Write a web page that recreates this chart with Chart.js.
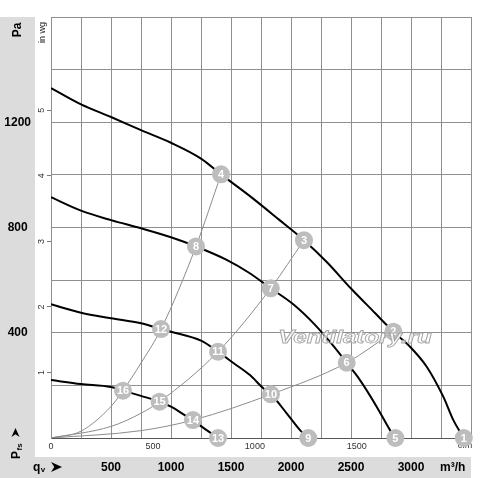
<!doctype html>
<html>
<head>
<meta charset="utf-8">
<title>Fan performance curves</title>
<script src="https://cdn.jsdelivr.net/npm/chart.js@4.4.1/dist/chart.umd.min.js"></script>
<style>
  html, body { margin: 0; padding: 0; background: #fff; }
</style>
</head>
<body>
<canvas id="fan" width="500" height="478"></canvas>
<script>
// axes
const flowTicks = [0, 250, 500, 750, 1000, 1250, 1500, 1750, 2000, 2250, 2500, 2750, 3000, 3250, 3500];
const flowLabels = [500, 1000, 1500, 2000, 2500, 3000];
const cfmTicks = [0, 500, 1000, 1500];
const paTicks = [0, 200, 400, 600, 800, 1000, 1200, 1400, 1600];
const paLabels = [400, 800, 1200];
const inwgTicks = [1, 2, 3, 4, 5];

// fan curves [m³/h, Pa], top speed first
const curve1 = [[0, 1330], [250, 1268], [500, 1220], [750, 1170], [1000, 1122], [1250, 1062], [1417, 1002],
  [1650, 922], [1900, 830], [2108, 752], [2300, 668], [2500, 568], [2700, 475], [2853, 404],
  [2992, 347], [3131, 271], [3269, 157], [3353, 68], [3440, 0]];
const curve2 = [[0, 915], [250, 864], [500, 828], [750, 797], [1000, 763], [1208, 728], [1460, 678],
  [1650, 628], [1831, 569], [2019, 508], [2200, 430], [2353, 350], [2464, 286], [2575, 220],
  [2714, 119], [2825, 30], [2870, 0]];
const curve3 = [[0, 508], [250, 476], [500, 455], [750, 436], [917, 414], [1000, 404], [1250, 370],
  [1392, 328], [1520, 285], [1658, 239], [1769, 189], [1833, 166], [1964, 94], [2075, 30], [2144, 0]];
const curve4 = [[0, 220], [250, 205], [500, 194], [600, 180], [750, 160], [905, 138], [1000, 119],
  [1131, 82], [1183, 68], [1256, 43], [1392, 0]];

// system curves
const system1 = [[0, 0], [250, 26], [500, 120], [600, 180], [750, 285], [917, 414], [1208, 728], [1417, 1002]];
const system2 = [[0, 0], [500, 44], [750, 94], [905, 138], [1392, 328], [1831, 569], [2108, 752]];
const system3 = [[0, 0], [750, 28], [1183, 68], [1833, 166], [2464, 286], [2853, 404]];

// operating points
const markerLabels = ['1', '2', '3', '4', '5', '6', '7', '8', '9', '10', '11', '12', '13', '14', '15', '16'];
const markerPoints = [[3440, 0], [2853, 404], [2108, 752], [1417, 1002], [2870, 0], [2464, 286], [1831, 569],
  [1208, 728], [2144, 0], [1833, 166], [1392, 328], [917, 414], [1392, 0], [1183, 68], [905, 138], [600, 180]];

const PA_PER_INWG = 249.09;
const M3H_PER_CFM = 1.699;
const FONT = "'Liberation Sans', Arial, sans-serif";

Chart.defaults.font.family = FONT;

const pts = arr => arr.map(([x, y]) => ({x, y}));

function fanLine(data) {
  return {data: pts(data), borderColor: '#000', borderWidth: 2, pointRadius: 0,
    cubicInterpolationMode: 'monotone', order: 1};
}
function sysLine(data) {
  return {data: pts(data), borderColor: '#8c8c8c', borderWidth: 1, pointRadius: 0,
    cubicInterpolationMode: 'monotone', order: 2};
}

function arrow(ctx, x, y, len) {
  // ➤ style arrow head pointing along +x
  ctx.beginPath();
  ctx.moveTo(x + len, y);
  ctx.lineTo(x, y - len * 0.45);
  ctx.lineTo(x + len * 0.3, y);
  ctx.lineTo(x, y + len * 0.45);
  ctx.closePath();
  ctx.fill();
}

const decor = {
  id: 'decor',
  beforeDraw(chart) {
    const {ctx, chartArea: a, scales: s} = chart;
    ctx.save();
    ctx.fillStyle = '#fff';
    ctx.fillRect(0, 0, chart.width, chart.height);
    ctx.fillStyle = '#dcdcdc';
    ctx.fillRect(0, a.top, s.y.right, chart.height - a.top);
    ctx.fillRect(0, s.x.top, a.right, s.x.bottom - s.x.top);
    ctx.restore();
  },
  beforeDatasetsDraw(chart) {
    const {ctx, chartArea: a} = chart;
    ctx.save();
    ctx.fillStyle = '#333';
    ctx.font = '9px ' + FONT;
    ctx.textAlign = 'center';
    ctx.textBaseline = 'top';
    ctx.fillText('cfm', a.right - 6, a.bottom + 3);
    ctx.restore();
  },
  afterDatasetsDraw(chart) {
    const {ctx} = chart;
    const meta = chart.getDatasetMeta(0);
    ctx.save();
    ctx.fillStyle = '#fff';
    ctx.font = 'bold 11px ' + FONT;
    ctx.textAlign = 'center';
    ctx.textBaseline = 'middle';
    meta.data.forEach((el, i) => ctx.fillText(markerLabels[i], el.x, el.y + 0.5));

    // watermark
    ctx.translate(355, 343);
    ctx.scale(1.34, 1);
    ctx.font = 'italic bold 18px ' + FONT;
    ctx.textBaseline = 'alphabetic';
    ctx.fillStyle = 'rgba(255,255,255,0.75)';
    ctx.fillText('Ventilatory.ru', 0, 0);
    ctx.strokeStyle = 'rgba(160,160,160,0.95)';
    ctx.lineWidth = 0.8;
    ctx.strokeText('Ventilatory.ru', 0, 0);
    ctx.restore();
  },
  afterDraw(chart) {
    const {ctx, chartArea: a, scales: s} = chart;
    ctx.save();
    ctx.fillStyle = '#000';
    ctx.textAlign = 'center';
    ctx.textBaseline = 'middle';

    // Pa
    ctx.save();
    ctx.translate(s.y.left + 17.5, a.top + 13);
    ctx.rotate(-Math.PI / 2);
    ctx.font = 'bold 12px ' + FONT;
    ctx.fillText('Pa', 0, 0);
    ctx.restore();

    // in wg
    ctx.save();
    ctx.translate(s.inwg.left + 8, a.top + 15.5);
    ctx.rotate(-Math.PI / 2);
    ctx.font = '9px ' + FONT;
    ctx.fillStyle = '#222';
    ctx.fillText('in wg', 0, 0);
    ctx.restore();

    // Pfs ➤
    ctx.save();
    ctx.translate(s.y.left + 19.5, chart.height - 19);
    ctx.rotate(-Math.PI / 2);
    ctx.textAlign = 'left';
    ctx.textBaseline = 'alphabetic';
    ctx.font = 'bold 12px ' + FONT;
    ctx.fillText('P', 0, 0);
    const wP = ctx.measureText('P').width;
    ctx.font = 'bold 8px ' + FONT;
    ctx.fillText('fs', wP + 0.5, 2.5);
    arrow(ctx, 22, -4, 9);
    ctx.restore();

    // qv ➤  and  m³/h
    const base = s.x.top + 13.5;
    ctx.textAlign = 'left';
    ctx.textBaseline = 'alphabetic';
    ctx.font = 'bold 12px ' + FONT;
    ctx.fillText('q', 33, base);
    const wq = ctx.measureText('q').width;
    ctx.font = 'bold 8px ' + FONT;
    ctx.fillText('v', 33 + wq + 0.5, base + 1);
    arrow(ctx, 51, base - 3.5, 11);
    ctx.font = 'bold 12px ' + FONT;
    ctx.fillText('m³/h', a.right - 31, base);
    ctx.restore();
  }
};

new Chart(document.getElementById('fan'), {
  type: 'line',
  data: {
    datasets: [
      {data: pts(markerPoints), showLine: false, pointRadius: 9, pointHoverRadius: 9,
        pointBackgroundColor: '#bdbdbd', pointBorderWidth: 0, clip: false, order: 0},
      fanLine(curve1), fanLine(curve2), fanLine(curve3), fanLine(curve4),
      sysLine(system1), sysLine(system2), sysLine(system3)
    ]
  },
  options: {
    responsive: false,
    animation: false,
    events: [],
    layout: {padding: {top: 17, right: 29, left: 0, bottom: 0}},
    plugins: {legend: {display: false}, tooltip: {enabled: false}},
    scales: {
      x: {
        type: 'linear', position: 'bottom', weight: 1, min: 0, max: 3500,
        afterBuildTicks: sc => { sc.ticks = flowTicks.map(v => ({value: v})); },
        afterFit: sc => { sc.height = 21; },
        grid: {color: '#8f8f8f', drawTicks: false},
        border: {display: false},
        ticks: {autoSkip: false, maxRotation: 0, padding: 3, color: '#000',
          font: {size: 12, weight: 'bold'},
          callback: v => flowLabels.includes(v) ? String(v) : ''}
      },
      cfm: {
        type: 'linear', position: 'bottom', weight: 0, min: 0, max: 3500 / M3H_PER_CFM,
        afterBuildTicks: sc => { sc.ticks = cfmTicks.map(v => ({value: v})); },
        afterFit: sc => { sc.height = 19; },
        grid: {drawOnChartArea: false, drawTicks: false},
        border: {display: true, color: '#555', width: 1},
        ticks: {autoSkip: false, maxRotation: 0, padding: 3, color: '#333', font: {size: 9},
          callback: v => String(v)}
      },
      y: {
        type: 'linear', position: 'left', weight: 1, min: 0, max: 1600,
        afterBuildTicks: sc => { sc.ticks = paTicks.map(v => ({value: v})); },
        afterFit: sc => { sc.width = 35; },
        grid: {color: '#8f8f8f', drawTicks: false},
        border: {display: false},
        ticks: {crossAlign: 'center', padding: 4, color: '#000', font: {size: 12, weight: 'bold'},
          callback: v => paLabels.includes(v) ? String(v) : ''}
      },
      inwg: {
        type: 'linear', position: 'left', weight: 0, min: 0, max: 1600 / PA_PER_INWG,
        afterBuildTicks: sc => { sc.ticks = inwgTicks.map(v => ({value: v})); },
        afterFit: sc => { sc.width = 16; },
        grid: {drawOnChartArea: false, drawTicks: true, tickLength: 4, color: '#777'},
        border: {display: true, color: '#8f8f8f'},
        ticks: {minRotation: 90, maxRotation: 90, crossAlign: 'center', padding: 2.5,
          color: '#333', font: {size: 9}, callback: v => String(v)}
      }
    }
  },
  plugins: [decor]
});
</script>
</body>
</html>
